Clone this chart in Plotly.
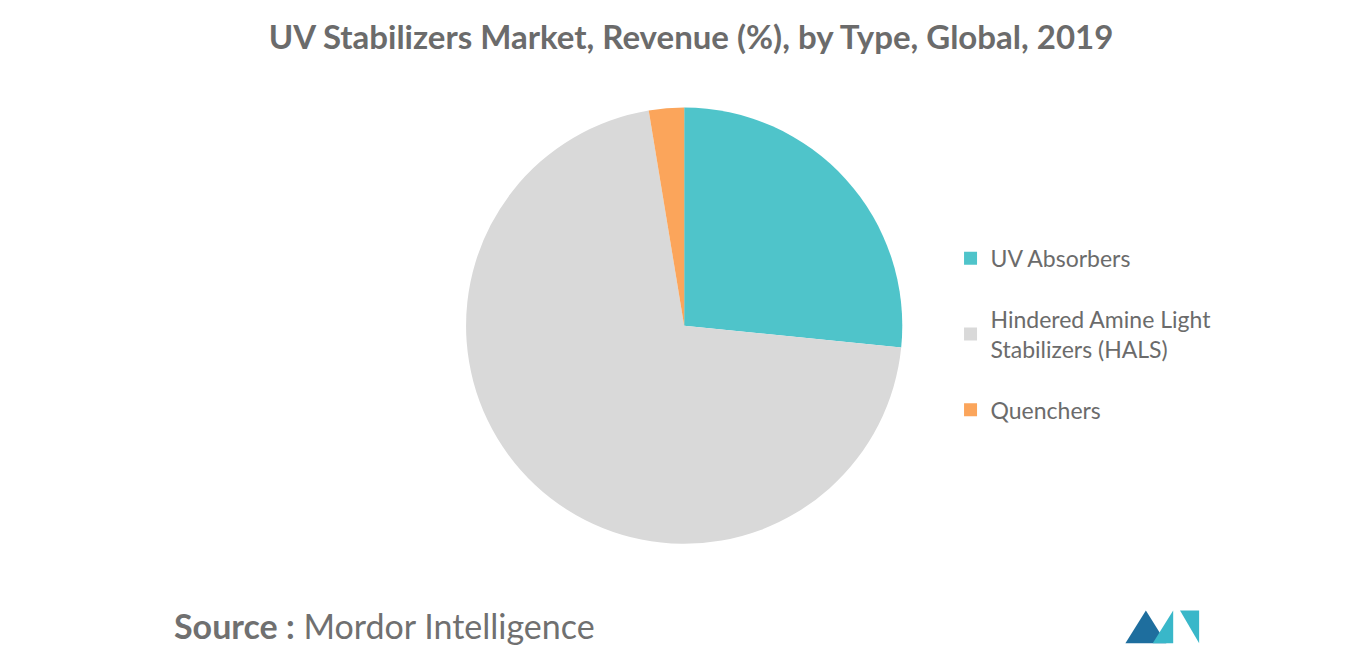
import plotly.graph_objects as go

labels = ["UV Absorbers", "Hindered Amine Light<br>Stabilizers (HALS)", "Quenchers"]
values = [26.6, 70.8, 2.6]
colors = ["#4FC4CA", "#D9D9D9", "#FBA55B"]

fig = go.Figure(
    go.Pie(
        labels=labels,
        values=values,
        marker=dict(colors=colors),
        sort=False,
        direction="clockwise",
        rotation=0,
        textinfo="none",
        hoverinfo="label+percent",
        showlegend=False,
        domain=dict(x=[0.330, 0.660], y=[0.182, 0.848]),
    )
)

# legend entries as grouped dummy traces so the spacing can be set
for lab, col in zip(labels, colors):
    fig.add_trace(go.Scatter(
        x=[None], y=[None], mode="markers", name=lab, legendgroup=lab,
        marker=dict(symbol="square", size=13, color=col),
    ))

fig.update_layout(
    width=1366,
    height=655,
    margin=dict(l=0, r=0, t=0, b=0),
    paper_bgcolor="white",
    plot_bgcolor="white",
    xaxis=dict(visible=False),
    yaxis=dict(visible=False),
    font=dict(family="Lato", color="#666666"),
    title=dict(
        text="<b>UV Stabilizers Market, Revenue (%), by Type, Global, 2019</b>",
        x=0.5, xanchor="center", y=0.955, yanchor="middle",
        font=dict(size=33, color="#6b6b6b"),
    ),
    legend=dict(
        x=0.69, y=0.502, xanchor="left", yanchor="middle",
        font=dict(size=23, color="#6b6b6b"),
        traceorder="grouped", tracegroupgap=28,
    ),
    annotations=[
        dict(
            text="<b>Source :</b> Mordor Intelligence",
            x=0.12, y=0.057, xref="paper", yref="paper",
            xanchor="left", yanchor="middle", showarrow=False,
            font=dict(size=34, color="#707070"),
        )
    ],
    shapes=[
        dict(type="path", xref="paper", yref="paper",
             path="M 0.818 0.03 L 0.833 0.08 L 0.848 0.03 Z",
             fillcolor="#1E6E9E", line=dict(width=0)),
        dict(type="path", xref="paper", yref="paper",
             path="M 0.838 0.03 L 0.853 0.08 L 0.853 0.03 Z",
             fillcolor="#39B7C9", line=dict(width=0)),
        dict(type="path", xref="paper", yref="paper",
             path="M 0.858 0.08 L 0.872 0.03 L 0.872 0.08 Z",
             fillcolor="#39B7C9", line=dict(width=0)),
    ],
)

fig.write_html("out.html")
